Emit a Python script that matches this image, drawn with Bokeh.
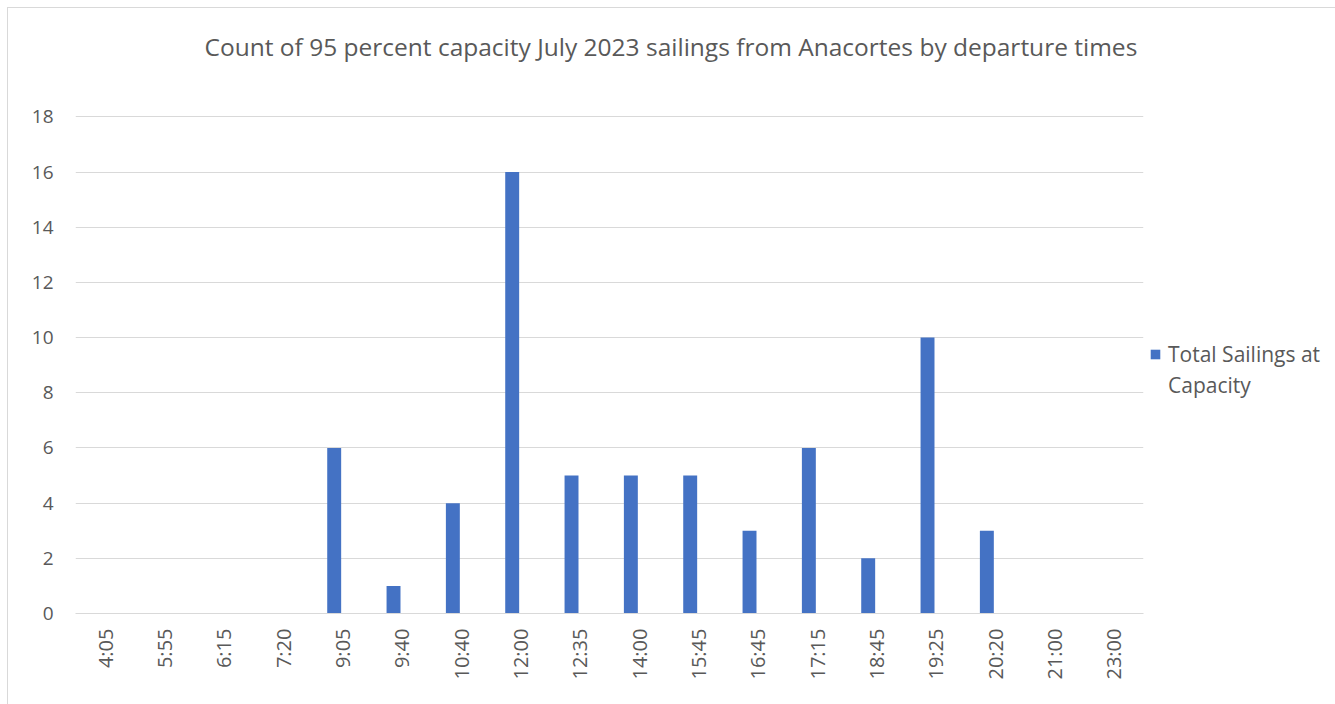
import math
from bokeh.plotting import figure
from bokeh.models import (ColumnDataSource, FactorRange, Range1d, FixedTicker,
                          Title, Legend, LegendItem)
from bokeh.transform import dodge
from bokeh.embed import file_html
from bokeh.resources import INLINE

title_text = "Count of 95 percent capacity July 2023 sailings from Anacortes by departure times"
times = ["4:05", "5:55", "6:15", "7:20", "9:05", "9:40", "10:40", "12:00", "12:35",
         "14:00", "15:45", "16:45", "17:15", "18:45", "19:25", "20:20", "21:00", "23:00"]
counts = [0, 0, 0, 0, 6, 1, 4, 16, 5, 5, 5, 3, 6, 2, 10, 3, 0, 0]
y_ticks = [0, 2, 4, 6, 8, 10, 12, 14, 16, 18]
series_name_lines = ["Total Sailings at", "Capacity"]

FONT = "Open Sans"
GRAY = "#595959"
BLUE = "#4472C4"

src = ColumnDataSource(dict(time=times, count=counts))

p = figure(x_range=FactorRange(factors=times, range_padding=0),
           y_range=Range1d(0, 18.05),
           width=1330, height=700,
           frame_width=1068, frame_height=498,
           min_border_left=67, min_border_top=107,
           min_border_right=0, min_border_bottom=95,
           output_backend="svg", toolbar_location=None,
           margin=(7, 0, 0, 7),
           styles={"border": "1px solid #d9d9d9", "box-sizing": "border-box"})

r = p.vbar(x=dodge("time", -0.14, range=p.x_range), top="count", width=0.235,
           source=src, fill_color=BLUE, line_color=None)
# invisible companion renderer used only for the second legend line
r2 = p.vbar(x=dodge("time", -0.14, range=p.x_range), top="count", width=0.235,
            source=src, fill_alpha=0, line_alpha=0)

p.outline_line_color = None
p.xgrid.grid_line_color = None
p.ygrid.grid_line_color = "#d9d9d9"
p.ygrid.ticker = FixedTicker(ticks=y_ticks)

p.yaxis.ticker = FixedTicker(ticks=y_ticks)
p.yaxis.axis_line_color = None
p.yaxis.major_tick_line_color = None
p.yaxis.minor_tick_line_color = None
p.yaxis.major_label_text_font = FONT
p.yaxis.major_label_text_font_size = "19px"
p.yaxis.major_label_text_color = GRAY
p.yaxis.major_label_standoff = 16

p.xaxis.axis_line_color = "#d9d9d9"
p.xaxis.major_tick_line_color = None
p.xaxis.minor_tick_line_color = None
p.xaxis.major_label_orientation = math.pi / 2
p.xaxis.major_label_text_font = FONT
p.xaxis.major_label_text_font_size = "20px"
p.xaxis.major_label_text_color = GRAY
p.xaxis.major_label_standoff = 9

# spacer (closest to the frame) then the visible title
spacer = Title(text=" ", standoff=50, text_font_size="1px")
p.add_layout(spacer, "above")
t = Title(text=title_text, align="left", offset=129, standoff=0,
          text_font=FONT, text_font_size="24.5px", text_font_style="normal",
          text_color=GRAY)
p.add_layout(t, "above")

legend = Legend(items=[LegendItem(label=series_name_lines[0], renderers=[r]),
                       LegendItem(label=series_name_lines[1], renderers=[r2])],
                location=(6, 214), padding=0, margin=9, border_line_color=None,
                background_fill_alpha=0, glyph_width=12, glyph_height=12,
                label_text_font=FONT, label_text_font_size="21px",
                label_text_color=GRAY, label_standoff=7, label_height=24,
                spacing=3)
p.add_layout(legend, "right")

open("out.html", "w").write(file_html(p, INLINE))
